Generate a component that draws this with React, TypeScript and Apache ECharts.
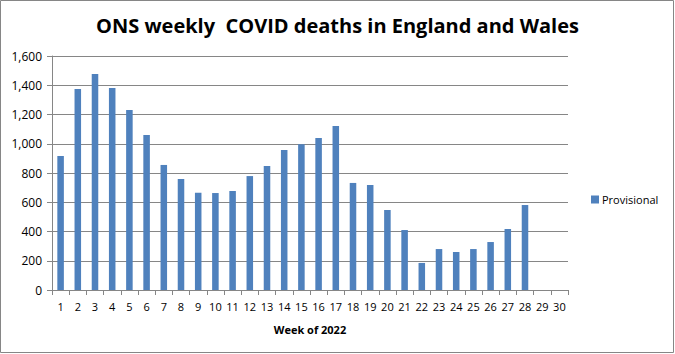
import React, { useEffect, useRef } from "react";
import * as echarts from "echarts";

const weeks = Array.from({ length: 30 }, (_, i) => String(i + 1));
const provisional = [
  916, 1374, 1477, 1381, 1231, 1060, 855, 759, 665, 663, 677, 779, 848, 957, 996,
  1039, 1121, 732, 718, 547, 410, 185, 280, 260, 280, 328, 417, 581, null, null,
];
const titleText = "ONS weekly  COVID deaths in England and Wales";
const xName = "Week of 2022";
const seriesName = "Provisional";

export default function App() {
  const ref = useRef<HTMLDivElement>(null);
  useEffect(() => {
    if (!ref.current) return;
    const chart = echarts.init(ref.current, undefined, { renderer: "svg" });
    chart.setOption({
      animation: false,
      backgroundColor: "#ffffff",
      textStyle: { fontFamily: "Open Sans" },
      title: {
        text: titleText,
        left: "center",
        top: 10,
        textStyle: { fontSize: 20, fontWeight: "bold", color: "#000", fontFamily: "Open Sans" },
      },
      graphic: [
        {
          type: "rect",
          silent: true,
          shape: { x: 0.5, y: 0.5, width: 673, height: 352 },
          style: { fill: "none", stroke: "#868686", lineWidth: 1 },
        },
      ],
      legend: {
        data: [seriesName],
        left: 586,
        top: 189,
        itemWidth: 8,
        itemHeight: 8,
        itemGap: 4,
        icon: "rect",
        textStyle: { fontSize: 11, color: "#000", padding: [0, 0, 0, -2] },
      },
      grid: { left: 52, right: 107, top: 56, bottom: 64, containLabel: false },
      xAxis: {
        type: "category",
        data: weeks,
        name: xName,
        nameLocation: "middle",
        nameGap: 34,
        nameTextStyle: { fontSize: 11, fontWeight: "bold", color: "#000" },
        axisLine: { lineStyle: { color: "#868686" } },
        axisTick: { show: true, length: 5, lineStyle: { color: "#868686" } },
        axisLabel: { color: "#000", fontSize: 11, margin: 11, interval: 0 },
      },
      yAxis: {
        type: "value",
        min: 0,
        max: 1600,
        interval: 200,
        axisLine: { show: true, lineStyle: { color: "#868686" } },
        axisTick: { show: true, length: 5, lineStyle: { color: "#868686" } },
        axisLabel: {
          color: "#000",
          fontSize: 12,
          margin: 10,
          formatter: (v: number) => v.toLocaleString("en-US"),
        },
        splitLine: { lineStyle: { color: "#868686" } },
      },
      series: [
        {
          name: seriesName,
          type: "bar",
          data: provisional,
          barCategoryGap: "62%",
          itemStyle: { color: "#4F81BD" },
        },
      ],
    });
    return () => chart.dispose();
  }, []);
  return (
    <div style={{ position: "fixed", left: 0, top: 0, width: 675, height: 354 }}>
      <div ref={ref} style={{ width: 675, height: 354 }} />
    </div>
  );
}
